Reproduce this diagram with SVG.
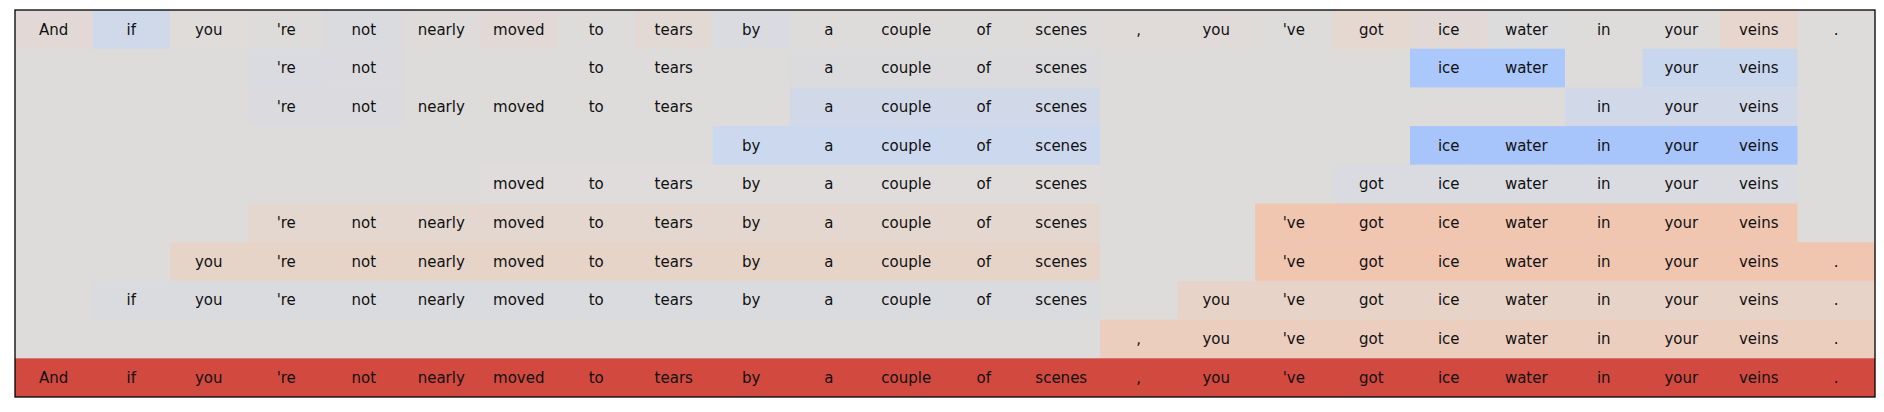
<svg xmlns="http://www.w3.org/2000/svg" width="1884" height="412" viewBox="0 0 1884 412">
<style>
text{font-family:"DejaVu Sans","Liberation Sans",sans-serif;font-size:15px;fill:#111;text-anchor:middle}
.f{fill:none;stroke:#000;stroke-width:1.3}
</style>
<rect width="1884" height="412" fill="#fff"/>
<rect x="15" y="10" width="1860" height="387" fill="#dedcdb"/>
<g id="row0">
<rect x="15" y="10" width="77.5" height="38.7" fill="#e2d9d6"/>
<rect x="92.5" y="10" width="77.5" height="38.7" fill="#cfd9ea"/>
<rect x="170" y="10" width="77.5" height="38.7" fill="#dfdcda"/>
<rect x="325" y="10" width="77.5" height="38.7" fill="#dadbdf"/>
<rect x="402.5" y="10" width="77.5" height="38.7" fill="#dfdbda"/>
<rect x="480" y="10" width="77.5" height="38.7" fill="#e2d9d6"/>
<rect x="635" y="10" width="77.5" height="38.7" fill="#e2d9d5"/>
<rect x="712.5" y="10" width="77.5" height="38.7" fill="#d9dbe0"/>
<rect x="1100" y="10" width="155" height="38.7" fill="#e0dad8"/>
<rect x="1332.5" y="10" width="77.5" height="38.7" fill="#e4d8d1"/>
<rect x="1410" y="10" width="77.5" height="38.7" fill="#e2d9d6"/>
<rect x="1487.5" y="10" width="77.5" height="38.7" fill="#dddcdc"/>
<rect x="1720" y="10" width="77.5" height="38.7" fill="#e6d6cd"/>
<text x="53.75" y="34.5">And</text><text x="131.25" y="34.5">if</text><text x="208.75" y="34.5">you</text><text x="286.25" y="34.5">'re</text><text x="363.75" y="34.5">not</text><text x="441.25" y="34.5">nearly</text><text x="518.75" y="34.5">moved</text><text x="596.25" y="34.5">to</text><text x="673.75" y="34.5">tears</text><text x="751.25" y="34.5">by</text><text x="828.75" y="34.5">a</text><text x="906.25" y="34.5">couple</text><text x="983.75" y="34.5">of</text><text x="1061.25" y="34.5">scenes</text><text x="1138.75" y="34.5">,</text><text x="1216.25" y="34.5">you</text><text x="1293.75" y="34.5">'ve</text><text x="1371.25" y="34.5">got</text><text x="1448.75" y="34.5">ice</text><text x="1526.25" y="34.5">water</text><text x="1603.75" y="34.5">in</text><text x="1681.25" y="34.5">your</text><text x="1758.75" y="34.5">veins</text><text x="1836.25" y="34.5">.</text>
</g>
<g id="row1">
<rect x="247.5" y="48.7" width="77.5" height="38.7" fill="#d9dbe0"/>
<rect x="325" y="48.7" width="77.5" height="38.7" fill="#dbdbdf"/>
<rect x="790" y="48.7" width="310" height="38.7" fill="#dbdbde"/>
<rect x="1410" y="48.7" width="155" height="38.7" fill="#abc8fc"/>
<rect x="1642.5" y="48.7" width="155" height="38.7" fill="#c8d6ee"/>
<text x="286.25" y="73.2">'re</text><text x="363.75" y="73.2">not</text><text x="596.25" y="73.2">to</text><text x="673.75" y="73.2">tears</text><text x="828.75" y="73.2">a</text><text x="906.25" y="73.2">couple</text><text x="983.75" y="73.2">of</text><text x="1061.25" y="73.2">scenes</text><text x="1448.75" y="73.2">ice</text><text x="1526.25" y="73.2">water</text><text x="1681.25" y="73.2">your</text><text x="1758.75" y="73.2">veins</text>
</g>
<g id="row2">
<rect x="247.5" y="87.4" width="155" height="38.7" fill="#dbdbdf"/>
<rect x="790" y="87.4" width="310" height="38.7" fill="#d1d9e9"/>
<rect x="1565" y="87.4" width="232.5" height="38.7" fill="#d1d9e9"/>
<text x="286.25" y="111.9">'re</text><text x="363.75" y="111.9">not</text><text x="441.25" y="111.9">nearly</text><text x="518.75" y="111.9">moved</text><text x="596.25" y="111.9">to</text><text x="673.75" y="111.9">tears</text><text x="828.75" y="111.9">a</text><text x="906.25" y="111.9">couple</text><text x="983.75" y="111.9">of</text><text x="1061.25" y="111.9">scenes</text><text x="1603.75" y="111.9">in</text><text x="1681.25" y="111.9">your</text><text x="1758.75" y="111.9">veins</text>
</g>
<g id="row3">
<rect x="712.5" y="126.1" width="387.5" height="38.7" fill="#ccd8ed"/>
<rect x="1410" y="126.1" width="387.5" height="38.7" fill="#a7c4fb"/>
<text x="751.25" y="150.6">by</text><text x="828.75" y="150.6">a</text><text x="906.25" y="150.6">couple</text><text x="983.75" y="150.6">of</text><text x="1061.25" y="150.6">scenes</text><text x="1448.75" y="150.6">ice</text><text x="1526.25" y="150.6">water</text><text x="1603.75" y="150.6">in</text><text x="1681.25" y="150.6">your</text><text x="1758.75" y="150.6">veins</text>
</g>
<g id="row4">
<rect x="480" y="164.8" width="620" height="38.7" fill="#dfdcdb"/>
<rect x="1332.5" y="164.8" width="465" height="38.7" fill="#d9dbe0"/>
<text x="518.75" y="189.3">moved</text><text x="596.25" y="189.3">to</text><text x="673.75" y="189.3">tears</text><text x="751.25" y="189.3">by</text><text x="828.75" y="189.3">a</text><text x="906.25" y="189.3">couple</text><text x="983.75" y="189.3">of</text><text x="1061.25" y="189.3">scenes</text><text x="1371.25" y="189.3">got</text><text x="1448.75" y="189.3">ice</text><text x="1526.25" y="189.3">water</text><text x="1603.75" y="189.3">in</text><text x="1681.25" y="189.3">your</text><text x="1758.75" y="189.3">veins</text>
</g>
<g id="row5">
<rect x="247.5" y="203.5" width="852.5" height="38.7" fill="#e4d7cf"/>
<rect x="1255" y="203.5" width="542.5" height="38.7" fill="#f1c6b1"/>
<text x="286.25" y="228">'re</text><text x="363.75" y="228">not</text><text x="441.25" y="228">nearly</text><text x="518.75" y="228">moved</text><text x="596.25" y="228">to</text><text x="673.75" y="228">tears</text><text x="751.25" y="228">by</text><text x="828.75" y="228">a</text><text x="906.25" y="228">couple</text><text x="983.75" y="228">of</text><text x="1061.25" y="228">scenes</text><text x="1293.75" y="228">'ve</text><text x="1371.25" y="228">got</text><text x="1448.75" y="228">ice</text><text x="1526.25" y="228">water</text><text x="1603.75" y="228">in</text><text x="1681.25" y="228">your</text><text x="1758.75" y="228">veins</text>
</g>
<g id="row6">
<rect x="170" y="242.2" width="930" height="38.7" fill="#e6d4c8"/>
<rect x="1255" y="242.2" width="620" height="38.7" fill="#f1c6b1"/>
<text x="208.75" y="266.7">you</text><text x="286.25" y="266.7">'re</text><text x="363.75" y="266.7">not</text><text x="441.25" y="266.7">nearly</text><text x="518.75" y="266.7">moved</text><text x="596.25" y="266.7">to</text><text x="673.75" y="266.7">tears</text><text x="751.25" y="266.7">by</text><text x="828.75" y="266.7">a</text><text x="906.25" y="266.7">couple</text><text x="983.75" y="266.7">of</text><text x="1061.25" y="266.7">scenes</text><text x="1293.75" y="266.7">'ve</text><text x="1371.25" y="266.7">got</text><text x="1448.75" y="266.7">ice</text><text x="1526.25" y="266.7">water</text><text x="1603.75" y="266.7">in</text><text x="1681.25" y="266.7">your</text><text x="1758.75" y="266.7">veins</text><text x="1836.25" y="266.7">.</text>
</g>
<g id="row7">
<rect x="92.5" y="280.9" width="1007.5" height="38.7" fill="#dadbdf"/>
<rect x="1177.5" y="280.9" width="697.5" height="38.7" fill="#e8d3c8"/>
<text x="131.25" y="305.4">if</text><text x="208.75" y="305.4">you</text><text x="286.25" y="305.4">'re</text><text x="363.75" y="305.4">not</text><text x="441.25" y="305.4">nearly</text><text x="518.75" y="305.4">moved</text><text x="596.25" y="305.4">to</text><text x="673.75" y="305.4">tears</text><text x="751.25" y="305.4">by</text><text x="828.75" y="305.4">a</text><text x="906.25" y="305.4">couple</text><text x="983.75" y="305.4">of</text><text x="1061.25" y="305.4">scenes</text><text x="1216.25" y="305.4">you</text><text x="1293.75" y="305.4">'ve</text><text x="1371.25" y="305.4">got</text><text x="1448.75" y="305.4">ice</text><text x="1526.25" y="305.4">water</text><text x="1603.75" y="305.4">in</text><text x="1681.25" y="305.4">your</text><text x="1758.75" y="305.4">veins</text><text x="1836.25" y="305.4">.</text>
</g>
<g id="row8">
<rect x="1100" y="319.6" width="775" height="38.7" fill="#eccebf"/>
<text x="1138.75" y="344.1">,</text><text x="1216.25" y="344.1">you</text><text x="1293.75" y="344.1">'ve</text><text x="1371.25" y="344.1">got</text><text x="1448.75" y="344.1">ice</text><text x="1526.25" y="344.1">water</text><text x="1603.75" y="344.1">in</text><text x="1681.25" y="344.1">your</text><text x="1758.75" y="344.1">veins</text><text x="1836.25" y="344.1">.</text>
</g>
<g id="row9">
<rect x="15" y="358.3" width="1860" height="38.7" fill="#d24a3f"/>
<text x="53.75" y="382.8">And</text><text x="131.25" y="382.8">if</text><text x="208.75" y="382.8">you</text><text x="286.25" y="382.8">'re</text><text x="363.75" y="382.8">not</text><text x="441.25" y="382.8">nearly</text><text x="518.75" y="382.8">moved</text><text x="596.25" y="382.8">to</text><text x="673.75" y="382.8">tears</text><text x="751.25" y="382.8">by</text><text x="828.75" y="382.8">a</text><text x="906.25" y="382.8">couple</text><text x="983.75" y="382.8">of</text><text x="1061.25" y="382.8">scenes</text><text x="1138.75" y="382.8">,</text><text x="1216.25" y="382.8">you</text><text x="1293.75" y="382.8">'ve</text><text x="1371.25" y="382.8">got</text><text x="1448.75" y="382.8">ice</text><text x="1526.25" y="382.8">water</text><text x="1603.75" y="382.8">in</text><text x="1681.25" y="382.8">your</text><text x="1758.75" y="382.8">veins</text><text x="1836.25" y="382.8">.</text>
</g>
<rect class="f" x="15" y="10" width="1860" height="387"/>
</svg>
